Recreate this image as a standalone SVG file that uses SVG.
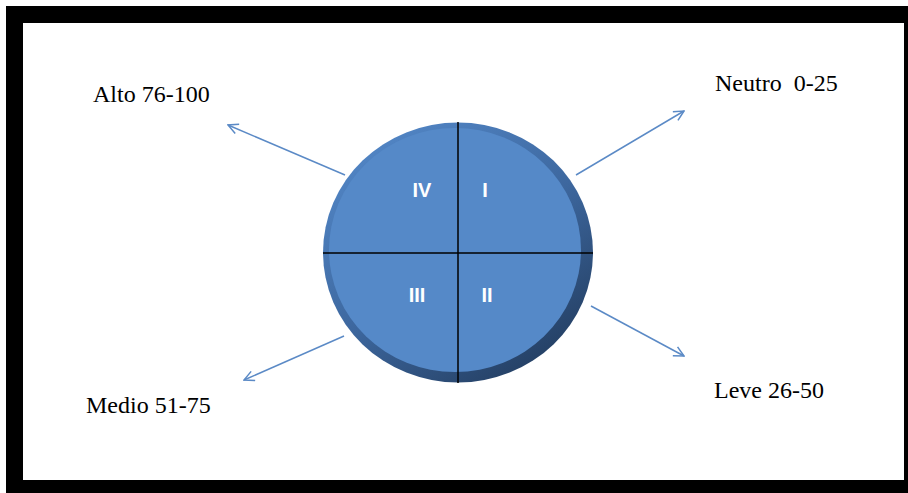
<svg xmlns="http://www.w3.org/2000/svg" width="908" height="493" viewBox="0 0 908 493">
<defs>
<style>
.lbl{font-family:"Liberation Serif",serif;font-size:24px;fill:#000}
.q{font-family:"Liberation Sans",Arial,sans-serif;font-size:20px;font-weight:bold;fill:#fff;text-anchor:middle}
.arr{stroke:#5b8ac6;stroke-width:1.5;fill:none;marker-end:url(#ah)}
.div{stroke:#000;stroke-width:1.5}
</style>
<marker id="ah" viewBox="0 0 12 12" refX="11" refY="6" markerWidth="12" markerHeight="12" markerUnits="userSpaceOnUse" orient="auto">
<path d="M1,1 L11,6 L1,11" fill="none" stroke="#5b8ac6" stroke-width="1.5"/>
</marker>
<linearGradient id="rim" x1="0.2" y1="0.1" x2="0.8" y2="0.95">
<stop offset="0" stop-color="#5083c2"/>
<stop offset="0.5" stop-color="#3d679e"/>
<stop offset="1" stop-color="#243f63"/>
</linearGradient>
</defs>
<rect x="6" y="6" width="902" height="487" fill="#000"/>
<rect x="23" y="23" width="881" height="457" fill="#fff"/>
<g id="connectors">
<line class="arr" x1="345" y1="175" x2="228" y2="125"/>
<line class="arr" x1="576" y1="175" x2="684" y2="111"/>
<line class="arr" x1="344" y1="336" x2="244" y2="380"/>
<line class="arr" x1="591" y1="306" x2="684" y2="356"/>
</g>
<g id="circle">
<ellipse cx="458" cy="252.5" rx="135" ry="130" fill="url(#rim)"/>
<ellipse cx="455" cy="250" rx="126" ry="122" fill="#5589c8"/>
<line class="div" x1="458" y1="122" x2="458" y2="383"/>
<line class="div" x1="323" y1="253" x2="593" y2="253"/>
</g>
<g id="q4"><text class="q" x="422" y="197">IV</text></g>
<g id="q1"><text class="q" x="485" y="197">I</text></g>
<g id="q3"><text class="q" x="417" y="302">III</text></g>
<g id="q2"><text class="q" x="487" y="302">II</text></g>
<g id="alto"><text class="lbl" x="93" y="102">Alto 76-100</text></g>
<g id="neutro"><text class="lbl" x="715" y="91" xml:space="preserve">Neutro  0-25</text></g>
<g id="medio"><text class="lbl" x="86" y="413">Medio 51-75</text></g>
<g id="leve"><text class="lbl" x="714" y="398">Leve 26-50</text></g>
</svg>
